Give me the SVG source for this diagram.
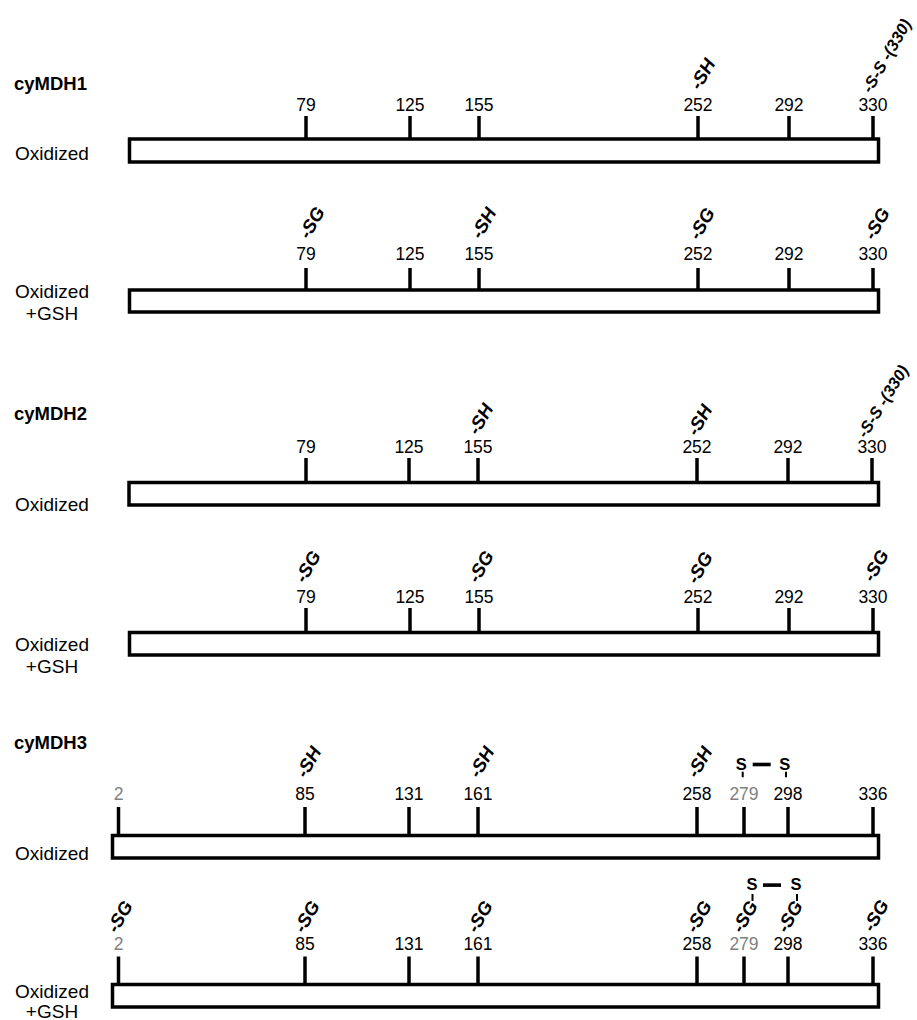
<svg xmlns="http://www.w3.org/2000/svg" width="917" height="1020" viewBox="0 0 917 1020">
<style>
text{font-family:"Liberation Sans",Arial,Helvetica,sans-serif;fill:#000}
.title{font-weight:bold;font-size:18.5px}
.lbl{font-size:19px}
.lblc{font-size:19px;text-anchor:middle}
.num{font-size:17.5px;text-anchor:middle}
.gray{fill:#808080}
.mod{font-weight:bold;font-style:italic;font-size:18.5px}
.ss{font-weight:bold;font-style:italic;font-size:16.5px}
.s{font-weight:bold;font-size:16.5px;text-anchor:middle}
.bar{fill:#fff;stroke:#000;stroke-width:3.5}
.tick{stroke:#000;stroke-width:3.5}
.dash{stroke:#000;stroke-width:2}
</style>
<rect x="0" y="0" width="917" height="1020" fill="#fff"/>

<g id="cymdh1-oxidized">
<text class="title" x="14" y="90">cyMDH1</text>
<text class="lbl" x="15" y="160">Oxidized</text>
<rect class="bar" x="129.5" y="139" width="749" height="23"/>
<g class="tick">
<line x1="306" y1="116" x2="306" y2="139"/><line x1="410" y1="116" x2="410" y2="139"/><line x1="479" y1="116" x2="479" y2="139"/><line x1="698" y1="116" x2="698" y2="139"/><line x1="789" y1="116" x2="789" y2="139"/><line x1="873" y1="116" x2="873" y2="139"/>
</g>
<text class="num" x="306" y="111">79</text><text class="num" x="410" y="111">125</text><text class="num" x="479" y="111">155</text><text class="num" x="698" y="111">252</text><text class="num" x="789" y="111">292</text><text class="num" x="873" y="111">330</text>
<text class="mod" transform="translate(700,91) rotate(-60)">-SH</text>
<text class="ss" transform="translate(871,94) rotate(-60)">-S-S -(330)</text>
</g>

<g id="cymdh1-gsh">
<text class="lblc" x="52" y="297.5">Oxidized</text>
<text class="lblc" x="52" y="319.5">+GSH</text>
<rect class="bar" x="129.5" y="290" width="749" height="22"/>
<g class="tick">
<line x1="306" y1="268" x2="306" y2="290"/><line x1="410" y1="268" x2="410" y2="290"/><line x1="479" y1="268" x2="479" y2="290"/><line x1="698" y1="268" x2="698" y2="290"/><line x1="789" y1="268" x2="789" y2="290"/><line x1="873" y1="268" x2="873" y2="290"/>
</g>
<text class="num" x="306" y="260">79</text><text class="num" x="410" y="260">125</text><text class="num" x="479" y="260">155</text><text class="num" x="698" y="260">252</text><text class="num" x="789" y="260">292</text><text class="num" x="873" y="260">330</text>
<text class="mod" transform="translate(309,240) rotate(-60)">-SG</text>
<text class="mod" transform="translate(481,240) rotate(-60)">-SH</text>
<text class="mod" transform="translate(699,241) rotate(-60)">-SG</text>
<text class="mod" transform="translate(874,241) rotate(-60)">-SG</text>
</g>

<g id="cymdh2-oxidized">
<text class="title" x="14" y="420">cyMDH2</text>
<text class="lbl" x="15" y="511">Oxidized</text>
<rect class="bar" x="129" y="482.5" width="749.5" height="22.5"/>
<g class="tick">
<line x1="306" y1="458" x2="306" y2="482.5"/><line x1="409" y1="458" x2="409" y2="482.5"/><line x1="478" y1="458" x2="478" y2="482.5"/><line x1="697" y1="458" x2="697" y2="482.5"/><line x1="788" y1="458" x2="788" y2="482.5"/><line x1="872" y1="458" x2="872" y2="482.5"/>
</g>
<text class="num" x="306" y="453">79</text><text class="num" x="409" y="453">125</text><text class="num" x="478" y="453">155</text><text class="num" x="697" y="453">252</text><text class="num" x="788" y="453">292</text><text class="num" x="872" y="453">330</text>
<text class="mod" transform="translate(478,436) rotate(-60)">-SH</text>
<text class="mod" transform="translate(697,437) rotate(-60)">-SH</text>
<text class="ss" transform="translate(866,439) rotate(-58)">-S-S -(330)</text>
</g>

<g id="cymdh2-gsh">
<text class="lblc" x="52" y="651">Oxidized</text>
<text class="lblc" x="52" y="673">+GSH</text>
<rect class="bar" x="129.5" y="632.5" width="749" height="22.5"/>
<g class="tick">
<line x1="306" y1="608" x2="306" y2="632.5"/><line x1="410" y1="608" x2="410" y2="632.5"/><line x1="479" y1="608" x2="479" y2="632.5"/><line x1="698" y1="608" x2="698" y2="632.5"/><line x1="789" y1="608" x2="789" y2="632.5"/><line x1="873" y1="608" x2="873" y2="632.5"/>
</g>
<text class="num" x="306" y="603">79</text><text class="num" x="410" y="603">125</text><text class="num" x="479" y="603">155</text><text class="num" x="698" y="603">252</text><text class="num" x="789" y="603">292</text><text class="num" x="873" y="603">330</text>
<text class="mod" transform="translate(305,584) rotate(-60)">-SG</text>
<text class="mod" transform="translate(478,584) rotate(-60)">-SG</text>
<text class="mod" transform="translate(697,585) rotate(-60)">-SG</text>
<text class="mod" transform="translate(873,583) rotate(-60)">-SG</text>
</g>

<g id="cymdh3-oxidized">
<text class="title" x="14" y="748.5">cyMDH3</text>
<text class="lbl" x="15" y="859.5">Oxidized</text>
<rect class="bar" x="112.5" y="835.5" width="766" height="22.5"/>
<g class="tick">
<line x1="118.5" y1="807" x2="118.5" y2="835.5"/><line x1="305" y1="807" x2="305" y2="835.5"/><line x1="409" y1="807" x2="409" y2="835.5"/><line x1="478" y1="807" x2="478" y2="835.5"/><line x1="697" y1="807" x2="697" y2="835.5"/><line x1="744" y1="807" x2="744" y2="835.5"/><line x1="788" y1="807" x2="788" y2="835.5"/><line x1="873" y1="807" x2="873" y2="835.5"/>
</g>
<text class="num gray" x="118.5" y="800">2</text><text class="num" x="305" y="800">85</text><text class="num" x="409" y="800">131</text><text class="num" x="478" y="800">161</text><text class="num" x="697" y="800">258</text><text class="num gray" x="744" y="800">279</text><text class="num" x="788" y="800">298</text><text class="num" x="873" y="800">336</text>
<text class="mod" transform="translate(306,779) rotate(-60)">-SH</text>
<text class="mod" transform="translate(479,779) rotate(-60)">-SH</text>
<text class="mod" transform="translate(697,779) rotate(-60)">-SH</text>
<text class="s" x="741.3" y="770">S</text>
<text class="s" x="784.7" y="770">S</text>
</g>

<g id="cymdh3-gsh">
<text class="lblc" x="52" y="997.5">Oxidized</text>
<text class="lblc" x="52" y="1017.5">+GSH</text>
<rect class="bar" x="112.5" y="984.5" width="766" height="22.5"/>
<g class="tick">
<line x1="118.5" y1="956.5" x2="118.5" y2="984.5"/><line x1="305" y1="956.5" x2="305" y2="984.5"/><line x1="409" y1="956.5" x2="409" y2="984.5"/><line x1="478" y1="956.5" x2="478" y2="984.5"/><line x1="697" y1="956.5" x2="697" y2="984.5"/><line x1="744" y1="956.5" x2="744" y2="984.5"/><line x1="788" y1="956.5" x2="788" y2="984.5"/><line x1="873" y1="956.5" x2="873" y2="984.5"/>
</g>
<text class="num gray" x="118.5" y="950">2</text><text class="num" x="305" y="950">85</text><text class="num" x="409" y="950">131</text><text class="num" x="478" y="950">161</text><text class="num" x="697" y="950">258</text><text class="num gray" x="744" y="950">279</text><text class="num" x="788" y="950">298</text><text class="num" x="873" y="950">336</text>
<text class="mod" transform="translate(117,934) rotate(-60)">-SG</text>
<text class="mod" transform="translate(304,934) rotate(-60)">-SG</text>
<text class="mod" transform="translate(477,934) rotate(-60)">-SG</text>
<text class="mod" transform="translate(696,934) rotate(-60)">-SG</text>
<text class="mod" transform="translate(742,934) rotate(-60)">-SG</text>
<text class="mod" transform="translate(787,934) rotate(-60)">-SG</text>
<text class="mod" transform="translate(873,933) rotate(-60)">-SG</text>
<text class="s" x="752" y="890">S</text>
<text class="s" x="796" y="890">S</text>
</g>

<g id="connectors">
<rect x="752.7" y="762.7" width="18" height="3.6" fill="#000"/>
<line class="dash" x1="742.7" y1="771.7" x2="742.7" y2="777.3"/>
<line class="dash" x1="786" y1="771.7" x2="786" y2="777.3"/>
<rect x="763" y="883.3" width="18" height="3.6" fill="#000"/>
<line class="dash" x1="752.5" y1="894" x2="752.5" y2="901"/>
<line class="dash" x1="797" y1="894" x2="797" y2="901"/>
</g>
</svg>
